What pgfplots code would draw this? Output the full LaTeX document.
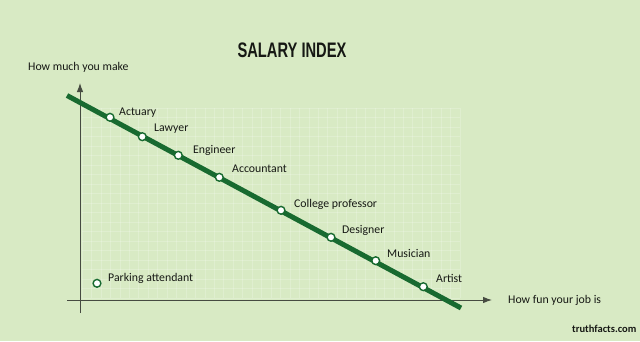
\documentclass[border=0pt]{standalone}
\usepackage{pgfplots}
\pgfplotsset{compat=1.18}
\usepackage{fontspec}
\setmainfont{Carlito}
\newfontfamily\titlefont{Liberation Sans}
\usetikzlibrary{arrows.meta}
\definecolor{bg}{RGB}{216,234,196}
\definecolor{lineg}{RGB}{24,106,48}
\definecolor{axisc}{RGB}{70,75,65}
\definecolor{txt}{RGB}{22,24,20}
\tikzset{lbl/.style={anchor=base west, text=txt, inner sep=0pt, font=\fontsize{11.8bp}{14bp}\selectfont}}
\begin{document}
\begin{tikzpicture}
\begin{axis}[
  x=1bp, y=1bp,
  xmin=-80, xmax=560, ymin=-41, ymax=300,
  axis lines=none, xtick=\empty, ytick=\empty,
  clip=false,
]
\fill[bg] (axis cs:-80,-41) rectangle (axis cs:560,300);
% faint grid
\pgfplotsinvokeforeach{0,...,40}{
  \draw[white, opacity=0.2, line width=0.6bp] (axis cs:{2+9.45*#1},2) -- (axis cs:{2+9.45*#1},192);
}
\pgfplotsinvokeforeach{0,...,20}{
  \draw[white, opacity=0.2, line width=0.6bp] (axis cs:2,{2+9.5*#1}) -- (axis cs:380,{2+9.5*#1});
}
% axes
\draw[axisc, line width=0.9bp, -{Latex[length=9bp,width=6.5bp]}] (axis cs:0,-13) -- (axis cs:0,217);
\draw[axisc, line width=0.9bp, -{Latex[length=9bp,width=6.5bp]}] (axis cs:-13,0) -- (axis cs:412,0);
% trend line
\addplot[lineg, line width=5bp] coordinates {(-13,204.5) (381,-8)};
% jobs
\addplot[only marks, mark=*, mark size=3.9bp,
  mark options={fill=white, draw=lineg, line width=1.4bp}] coordinates {
  (30,182.7) (62.3,163.3) (98.3,144.7) (139.3,122.7) (201,89.7)
  (251,62.7) (295.7,39.3) (343.3,13.3) (17,16.7)};
\node[lbl] at (axis cs:39,185) {Actuary};
\node[lbl] at (axis cs:74,169) {Lawyer};
\node[lbl] at (axis cs:113,147) {Engineer};
\node[lbl] at (axis cs:152,128) {Accountant};
\node[lbl] at (axis cs:214,93) {College professor};
\node[lbl] at (axis cs:262,67) {Designer};
\node[lbl] at (axis cs:307,43) {Musician};
\node[lbl] at (axis cs:356,18) {Artist};
\node[lbl] at (axis cs:28,19) {Parking attendant};
\node[lbl] at (axis cs:-52,230) {How much you make};
\node[lbl] at (axis cs:428,-3) {How fun your job is};
\node[lbl, font=\fontsize{10.5bp}{12bp}\selectfont\bfseries] at (axis cs:492,-32) {truthfacts.com};
\node[anchor=base, inner sep=0pt, text=txt] at (axis cs:212,243) {\scalebox{0.7}[1]{\titlefont\fontsize{21bp}{24bp}\selectfont\bfseries SALARY INDEX}};
\end{axis}
\end{tikzpicture}
\end{document}
